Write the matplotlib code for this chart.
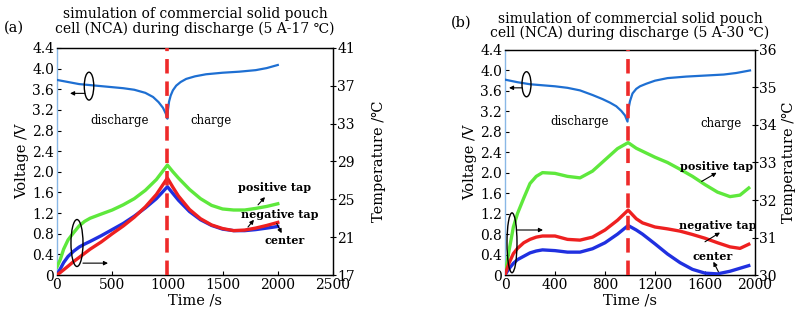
import matplotlib
matplotlib.use("Agg")
import matplotlib.pyplot as plt
from matplotlib.patches import Ellipse

plt.rcParams['font.family'] = ['DejaVu Serif', 'DejaVu Sans']
plt.rcParams['mathtext.fontset'] = 'dejavuserif'

# ---------------- Panel (a) data ----------------
t_volt_a = [0, 100, 200, 300, 400, 500, 600, 700, 800, 870, 920, 960, 985, 1000,
            1005, 1015, 1030, 1050, 1080, 1120, 1170, 1250, 1350, 1500, 1650, 1800, 1900, 2000]
volt_a = [3.78, 3.74, 3.70, 3.68, 3.66, 3.64, 3.62, 3.59, 3.53, 3.45, 3.35, 3.24, 3.13, 3.03,
          3.20, 3.36, 3.48, 3.58, 3.67, 3.74, 3.80, 3.85, 3.89, 3.92, 3.94, 3.97, 4.01, 4.07]

t_temp_a = [0, 30, 60, 100, 150, 200, 250, 300, 400, 500, 600, 700, 800, 900, 1000,
            1050, 1100, 1200, 1300, 1400, 1500, 1600, 1700, 1800, 1900, 2000]
pos_tap_a = [17.87, 18.64, 19.73, 20.71, 21.47, 22.18, 22.67, 23.00, 23.44, 23.87, 24.42, 25.07,
             25.95, 27.09, 28.62, 27.91, 27.25, 26.05, 25.07, 24.36, 23.98, 23.87, 23.87, 24.04,
             24.25, 24.53]
neg_tap_a = [17.00, 17.27, 17.55, 17.93, 18.42, 18.85, 19.29, 19.73, 20.49, 21.36, 22.18, 23.11,
             24.20, 25.51, 27.25, 26.27, 25.35, 23.93, 22.95, 22.29, 21.91, 21.69, 21.75, 21.96,
             22.24, 22.56]
center_a = [17.00, 17.65, 18.31, 18.96, 19.51, 19.95, 20.27, 20.55, 21.15, 21.80, 22.45, 23.22,
            24.09, 25.07, 26.33, 25.62, 24.91, 23.71, 22.84, 22.24, 21.85, 21.69, 21.69, 21.80,
            21.96, 22.13]

# ---------------- Panel (b) data ----------------
t_volt_b = [0, 100, 200, 300, 400, 500, 600, 700, 780, 840, 890, 930, 960, 980, 988,
            1000, 1020, 1050, 1080, 1130, 1200, 1300, 1450, 1600, 1750, 1850, 1960]
volt_b = [3.82, 3.77, 3.73, 3.71, 3.69, 3.66, 3.61, 3.52, 3.44, 3.37, 3.30, 3.21, 3.12, 3.00,
          3.25, 3.40, 3.55, 3.64, 3.69, 3.74, 3.80, 3.85, 3.88, 3.90, 3.92, 3.95, 4.00]

t_temp_b = [0, 30, 67, 100, 150, 200, 250, 300, 400, 500, 600, 700, 800, 900, 985,
            1050, 1100, 1200, 1300, 1400, 1500, 1600, 1700, 1800, 1880, 1950]
pos_tap_b = [30.00, 30.61, 31.28, 31.64, 32.05, 32.44, 32.63, 32.73, 32.71, 32.63, 32.59, 32.77,
             33.07, 33.37, 33.53, 33.38, 33.30, 33.14, 33.00, 32.82, 32.63, 32.41, 32.21, 32.09,
             32.13, 32.32]
neg_tap_b = [30.00, 30.30, 30.57, 30.71, 30.86, 30.95, 31.01, 31.04, 31.04, 30.95, 30.93, 31.01,
             31.20, 31.46, 31.73, 31.50, 31.39, 31.28, 31.23, 31.17, 31.08, 30.98, 30.86, 30.75,
             30.71, 30.82]
center_b = [30.00, 30.16, 30.31, 30.41, 30.50, 30.59, 30.64, 30.67, 30.65, 30.61, 30.61, 30.70,
            30.86, 31.09, 31.32, 31.20, 31.09, 30.83, 30.56, 30.33, 30.15, 30.05, 30.03, 30.10,
            30.18, 30.25]

volt_ticks = [0, 0.4, 0.8, 1.2, 1.6, 2.0, 2.4, 2.8, 3.2, 3.6, 4.0, 4.4]
volt_ticklabels = ['0', '0.4', '0.8', '1.2', '1.6', '2.0', '2.4', '2.8', '3.2', '3.6', '4.0', '4.4']
time_ticks_a = [0, 500, 1000, 1500, 2000, 2500]
time_ticks_b = [0, 400, 800, 1200, 1600, 2000]
temp_ticks_a = [17, 21, 25, 29, 33, 37, 41]
temp_ticks_b = [30, 31, 32, 33, 34, 35, 36]

switch_a = 1000
switch_b = 985

title_a = "simulation of commercial solid pouch\ncell (NCA) during discharge (5 A-17 \u2103)"
title_b = "simulation of commercial solid pouch\ncell (NCA) during discharge (5 A-30 \u2103)"

C_VOLT = '#1e6fd2'
C_GREEN = '#5ee83c'
C_RED = '#ee2020'
C_BLUE = '#2030e0'
C_DASH = '#ee2a2a'
C_LSPINE = '#8ab8e6'

fig = plt.figure(figsize=(8.0, 3.18), dpi=100)

FS_TICK = 10
FS_LAB = 10.5


def make_panel(rect, t_v, v, t_t, pos, neg, cen, xmax, xticks, tlim, tticks, switch, title, tag,
               anno, title_pad, rlabpad):
    ax = fig.add_axes(rect)
    ax.set_xlim(0, xmax)
    ax.set_ylim(0, 4.4)
    ax.set_yticks(volt_ticks)
    ax.set_yticklabels(volt_ticklabels)
    ax.set_xticks(xticks)
    ax.tick_params(direction='in', length=3, labelsize=FS_TICK, pad=2)
    ax.spines['left'].set_color(C_LSPINE)
    ax.spines['left'].set_linewidth(1.0)
    for s in ['top', 'bottom', 'right']:
        ax.spines[s].set_linewidth(1.0)
        ax.spines[s].set_color('#222222')
    ax.plot(t_v, v, color=C_VOLT, lw=1.6, zorder=3)
    ax.set_xlabel('Time /s', fontsize=FS_LAB, labelpad=1)
    ax.set_ylabel('Voltage /V', fontsize=FS_LAB, labelpad=2)

    ax2 = ax.twinx()
    ax2.set_ylim(*tlim)
    ax2.set_yticks(tticks)
    ax2.tick_params(direction='inout', length=4, labelsize=FS_TICK, pad=1)
    ax2.spines['left'].set_visible(False)
    ax2.plot(t_t, pos, color=C_GREEN, lw=2.4, zorder=3)
    ax2.plot(t_t, neg, color=C_RED, lw=2.4, zorder=4)
    ax2.plot(t_t, cen, color=C_BLUE, lw=2.4, zorder=3.5)
    ax2.set_ylabel('Temperature /\u2103', fontsize=FS_LAB, labelpad=rlabpad)

    ax2.axvline(switch, color=C_DASH, lw=2.6, dashes=(4, 2.2), zorder=6)

    ax.set_title(title, fontsize=10, pad=title_pad, linespacing=1.0)
    ax.text(tag[0], tag[1], tag[2], transform=fig.transFigure, fontsize=10.5, ha='left',
            va='center')

    top = ax2

    def v2t(vv):
        return tlim[0] + vv / 4.4 * (tlim[1] - tlim[0])

    for (cx, cy, w, h) in anno['ellipses']:
        e = Ellipse((cx, v2t(cy)), w, h / 4.4 * (tlim[1] - tlim[0]), fill=False,
                    ec='black', lw=1.0, zorder=7)
        top.add_patch(e)
    for (x0, y0, x1, y1) in anno['arrows']:
        top.annotate('', xy=(x1, v2t(y1)), xytext=(x0, v2t(y0)),
                     arrowprops=dict(arrowstyle='-|>', color='black', lw=0.8,
                                     mutation_scale=6, shrinkA=0, shrinkB=0), zorder=7)
    for (x, y, s, fs, wt) in anno['texts']:
        top.text(x, v2t(y), s, fontsize=fs, ha='center', va='center', fontweight=wt, zorder=8)
    return ax, ax2


anno_a = {
    'ellipses': [(290, 3.66, 86, 0.54), (181, 0.62, 109, 0.91)],
    'arrows': [(254, 3.52, 118, 3.52), (235, 0.23, 462, 0.23),
               (1821, 1.36, 1884, 1.51), (1730, 0.93, 1784, 1.07), (1990, 1.0, 2035, 0.81)],
    'texts': [(571, 3.0, 'discharge', 8.5, 'normal'), (1395, 3.0, 'charge', 8.5, 'normal'),
              (1975, 1.69, 'positive tap', 8, 'bold'), (2020, 1.18, 'negative tap', 8, 'bold'),
              (2061, 0.66, 'center', 8, 'bold')],
}
anno_b = {
    'ellipses': [(172, 3.73, 72, 0.49), (56, 0.63, 80, 1.17)],
    'arrows': [(136, 3.66, 32, 3.66), (96, 0.88, 304, 0.88),
               (1573, 1.83, 1693, 2.0), (1600, 0.65, 1720, 0.83), (1707, 0.065, 1667, 0.26)],
    'texts': [(600, 3.01, 'discharge', 8.5, 'normal'), (1728, 2.97, 'charge', 8.5, 'normal'),
              (1692, 2.13, 'positive tap', 8, 'bold'), (1700, 0.96, 'negative tap', 8, 'bold'),
              (1660, 0.37, 'center', 8, 'bold')],
}

make_panel([0.07125, 0.1352, 0.345, 0.714], t_volt_a, volt_a, t_temp_a, pos_tap_a, neg_tap_a,
           center_a, 2500, time_ticks_a, (17, 41), temp_ticks_a, switch_a, title_a,
           (0.005, 0.912, '(a)'), anno_a, 11, 12)
make_panel([0.63125, 0.1352, 0.3125, 0.7076], t_volt_b, volt_b, t_temp_b, pos_tap_b, neg_tap_b,
           center_b, 2000, time_ticks_b, (30, 36), temp_ticks_b, switch_b, title_b,
           (0.563, 0.928, '(b)'), anno_b, 9, 4)

fig.savefig('out.png', dpi=100)
